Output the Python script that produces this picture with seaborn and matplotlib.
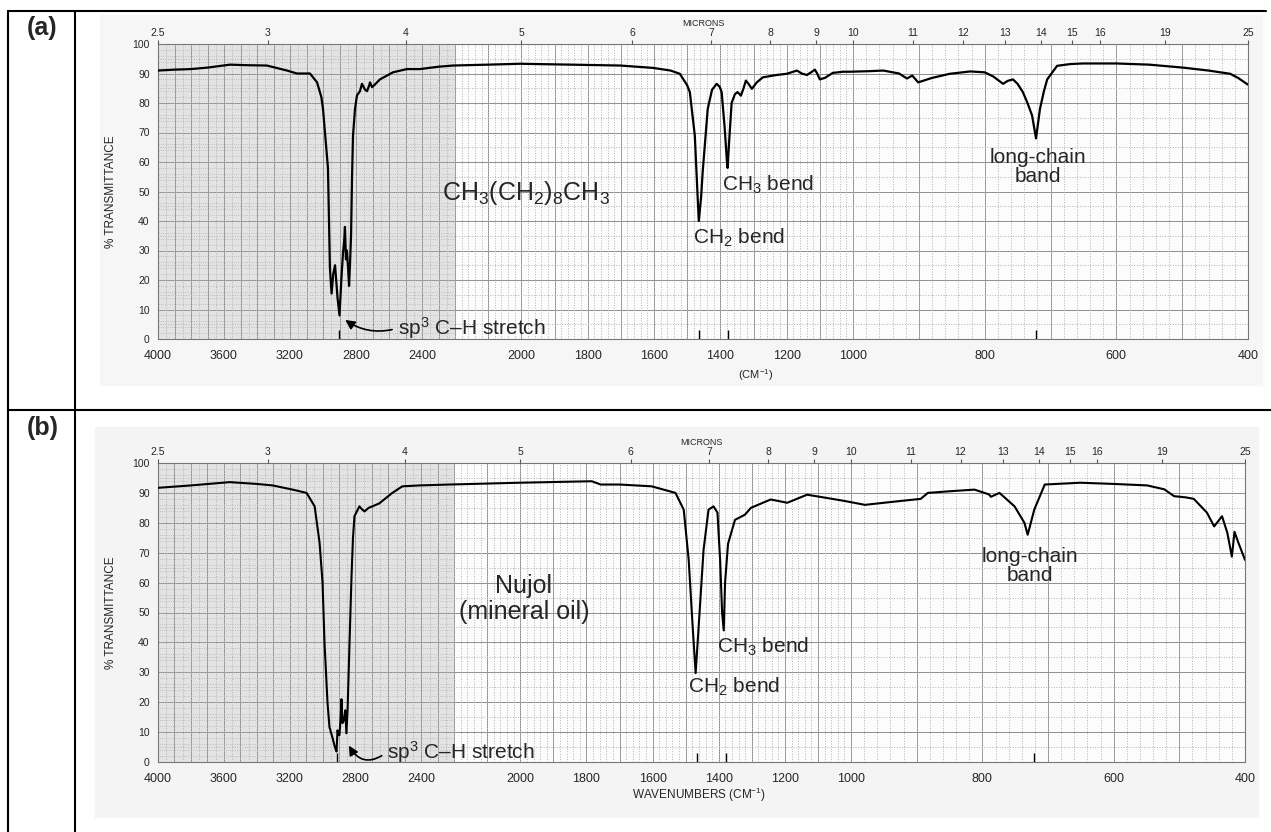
import numpy as np
import pandas as pd
import matplotlib.pyplot as plt
from matplotlib.lines import Line2D
from matplotlib.patches import Rectangle
import seaborn as sns

# (a) decane CH3(CH2)8CH3 - wavenumber (cm-1) / % transmittance
wn_a = [4000, 3900, 3800, 3700, 3564, 3450, 3340, 3218, 3158, 3079, 3036, 3010, 3000, 2985,
        2970, 2958, 2948, 2938, 2927, 2912, 2900, 2889, 2879, 2872, 2867, 2861, 2855, 2848,
        2842, 2836, 2830, 2824, 2818, 2806, 2794, 2776, 2764, 2745, 2733, 2720, 2715, 2703,
        2690, 2655, 2576, 2491, 2412, 2300, 2212, 2100, 2004, 1850, 1702, 1603, 1550, 1522,
        1500, 1492, 1477, 1470, 1465, 1458, 1453, 1438, 1425, 1411, 1402, 1396, 1387, 1380,
        1378, 1374, 1366, 1356, 1348, 1338, 1330, 1323, 1315, 1305, 1290, 1272, 1230, 1200,
        1169, 1155, 1139, 1125, 1115, 1108, 1100, 1085, 1061, 1030, 1009, 974, 954, 930,
        918, 910, 901, 880, 853, 822, 800, 787, 772, 765, 757, 750, 742, 735, 728, 722,
        716, 710, 705, 690, 670, 651, 600, 550, 499, 460, 427, 415, 400]
t_a = [91.0, 91.3, 91.5, 92.0, 93.0, 92.8, 92.7, 91.0, 90.0, 90.0, 87.0, 82.0, 78.0, 68.0,
       58.0, 24.0, 15.4, 22.0, 25.0, 14.0, 8.0, 20.0, 29.0, 33.0, 38.0, 27.0, 30.0, 24.0,
       18.0, 26.0, 35.0, 55.0, 69.0, 78.0, 82.6, 84.0, 86.5, 84.5, 84.0, 86.0, 87.0, 85.4,
       86.0, 88.0, 90.4, 91.5, 91.5, 92.3, 92.7, 93.0, 93.3, 93.0, 92.7, 91.9, 91.0, 89.9,
       86.0, 83.7, 69.0, 52.0, 40.0, 48.0, 57.0, 78.0, 84.5, 86.5, 85.5, 83.7, 71.7, 60.0,
       58.0, 66.0, 80.0, 83.0, 83.7, 82.5, 85.0, 87.6, 86.5, 84.8, 87.0, 88.7, 89.5, 89.9,
       91.0, 90.0, 89.5, 90.5, 91.3, 90.0, 88.0, 88.5, 90.2, 90.6, 90.6, 90.8, 91.0, 90.0,
       88.3, 89.3, 87.0, 88.5, 89.9, 90.7, 90.4, 89.0, 86.5, 87.5, 88.0, 86.5, 83.7, 80.0,
       75.8, 68.0, 78.0, 84.0, 88.0, 92.6, 93.2, 93.4, 93.4, 93.0, 92.0, 91.0, 89.9, 88.5, 86.2]

# (b) Nujol (mineral oil)
wn_b = [4000, 3800, 3564, 3400, 3303, 3182, 3097, 3048, 3018, 3000, 2988, 2970, 2958, 2939,
        2925, 2915, 2909, 2903, 2897, 2890, 2885, 2879, 2870, 2862, 2855, 2848, 2836, 2824,
        2815, 2806, 2776, 2760, 2745, 2720, 2697, 2655, 2576, 2515, 2412, 2230, 2004, 1784,
        1757, 1700, 1603, 1531, 1506, 1491, 1479, 1470, 1461, 1446, 1431, 1416, 1404, 1396,
        1390, 1385, 1381, 1372, 1351, 1321, 1303, 1243, 1193, 1133, 1073, 1030, 1005, 979,
        929, 894, 883, 853, 812, 790, 787, 774, 751, 736, 731, 721, 705, 651, 600, 549,
        523, 508, 490, 478, 458, 447, 435, 427, 420, 416, 410, 400]
t_b = [91.7, 92.5, 93.6, 93.0, 92.5, 91.1, 90.0, 85.5, 73.3, 60.0, 39.8, 20.0, 11.7, 8.0,
       5.0, 3.5, 10.6, 9.0, 9.0, 15.0, 21.0, 13.0, 14.0, 17.3, 9.6, 17.3, 40.0, 62.0,
       75.0, 82.2, 85.5, 84.5, 83.8, 85.0, 85.5, 86.5, 90.0, 92.2, 92.5, 92.8, 93.4, 93.9,
       92.8, 92.8, 92.2, 90.0, 84.4, 67.6, 45.3, 29.7, 45.0, 71.0, 84.4, 85.5, 83.4, 67.6,
       50.0, 44.0, 60.0, 73.0, 81.0, 82.7, 85.0, 87.8, 86.7, 89.4, 88.3, 87.5, 87.0, 86.0,
       87.2, 88.0, 90.0, 90.5, 91.1, 89.5, 88.7, 90.0, 85.5, 80.0, 76.0, 84.4, 92.8, 93.4, 93.0, 92.5,
       91.2, 88.9, 88.5, 88.0, 83.4, 78.8, 82.2, 76.7, 68.7, 77.0, 73.3, 67.6]

x_ticks = [4000, 3600, 3200, 2800, 2400, 2000, 1800, 1600, 1400, 1200, 1000, 800, 600, 400]
y_ticks = [0, 10, 20, 30, 40, 50, 60, 70, 80, 90, 100]
micron_ticks = [2.5, 3, 4, 5, 6, 7, 8, 9, 10, 11, 12, 13, 14, 15, 16, 19, 25]
micron_labels = ["2.5", "3", "4", "5", "6", "7", "8", "9", "10", "11", "12", "13", "14",
                 "15", "16", "19", "25"]
peaks_a = [2905, 1465, 1378, 722]
peaks_b = [2915, 1465, 1378, 722]

# chart paper scale: 4000-2200 compressed, 2200-1000 twice, 1000-400 four times
scale_wn = [400, 1000, 2200, 4000]
scale_pos = [-1090, -695, -297, 0]


def fwd(x):
    return np.interp(x, scale_wn, scale_pos)


def inv(p):
    return np.interp(p, scale_pos, scale_wn)


sns.set_theme(style="white")
plt.rcParams["font.family"] = ["Liberation Sans", "DejaVu Sans"]
plt.rcParams["mathtext.fontset"] = "custom"
plt.rcParams["mathtext.rm"] = "Liberation Sans"
plt.rcParams["mathtext.default"] = "regular"

fig = plt.figure(figsize=(12.71, 8.32), dpi=100)
W, H = 1271, 832

# scanned background of both pictures
fig.patches.append(Rectangle((100 / W, 1 - 385 / H), 1162 / W, 370 / H,
                             transform=fig.transFigure, color="#f6f6f6", zorder=-5))
fig.patches.append(Rectangle((95 / W, 1 - 817 / H), 1163 / W, 390 / H,
                             transform=fig.transFigure, color="#f4f4f4", zorder=-5))

ax_a = fig.add_axes([158 / W, 1 - 339 / H, 1090 / W, 295 / H])
ax_b = fig.add_axes([158 / W, 1 - 762 / H, 1087 / W, 299 / H])


def draw_panel(ax, wn, t, peaks, lw):
    ax.set_xscale("function", functions=(fwd, inv))
    ax.set_facecolor("#fcfcfc")
    ax.axvspan(2200, 4000, color="#e3e3e3", lw=0, zorder=0)
    fine_x = np.concatenate([np.arange(400, 1000, 20), np.arange(1000, 2200, 20),
                             np.arange(2200, 4000, 50)])
    ax.vlines(fine_x, 0, 100, colors="#b4b4b4", linestyles=":", lw=0.7, zorder=1)
    ax.hlines(np.arange(5, 100, 10), 400, 4000, colors="#b4b4b4", linestyles=":", lw=0.7, zorder=1)
    ax.hlines(np.arange(2, 100, 2), 2200, 4000, colors="#b4b4b4", linestyles=":", lw=0.6, zorder=1)
    df = pd.DataFrame({"wn": wn, "t": t})
    sns.lineplot(data=df, x="wn", y="t", ax=ax, color="black", lw=lw, sort=False,
                 estimator=None, zorder=5)
    ax.vlines(peaks, 0, 3, colors="black", lw=1.0, zorder=4)
    ax.set_xlim(4000, 400)
    ax.set_ylim(0, 100)
    ax.set_xticks(x_ticks)
    ax.set_xticks(np.arange(400, 4001, 100), minor=True)
    ax.set_xticklabels([str(v) for v in x_ticks])
    ax.set_yticks(y_ticks)
    ax.grid(True, which="both", color="#8e8e8e", lw=0.7, zorder=2)
    ax.set_axisbelow(True)
    ax.tick_params(axis="x", which="both", length=0, labelsize=9, pad=8)
    ax.tick_params(axis="y", length=0, labelsize=7.5, pad=6)
    for s in ax.spines.values():
        s.set_color("#777777")
        s.set_linewidth(0.8)
    ax.set_ylabel("% TRANSMITTANCE", fontsize=8.5)
    ax.yaxis.set_label_coords(-0.038, 0.5)

    top = ax.twiny()
    top.set_xscale("function", functions=(fwd, inv))
    top.set_xlim(4000, 400)
    top.set_xticks([10000 / m for m in micron_ticks])
    top.set_xticklabels(micron_labels)
    top.tick_params(axis="x", length=3, width=0.8, color="#555555", labelsize=7.5, pad=1)
    top.set_xlabel("MICRONS", fontsize=6.5, labelpad=2)
    for s in top.spines.values():
        s.set_visible(False)
    return top


draw_panel(ax_a, wn_a, t_a, peaks_a, 1.6)
draw_panel(ax_b, wn_b, t_b, peaks_b, 1.5)

ax_a.set_xlabel("(CM$^{-1}$)", fontsize=8)
ax_a.xaxis.set_label_coords(0.548, -0.095)
ax_b.set_xlabel("WAVENUMBERS (CM$^{-1}$)", fontsize=8.5)
ax_b.xaxis.set_label_coords(0.498, -0.078)

big = 18
mid = 15
ax_a.text(2279, 49.4, "CH$_3$(CH$_2$)$_8$CH$_3$", fontsize=big, ha="left", va="center")
ax_a.text(1396, 52.4, "CH$_3$ bend", fontsize=mid, ha="left", va="center")
ax_a.text(1483, 34.3, "CH$_2$ bend", fontsize=mid, ha="left", va="center")
ax_a.text(719, 58.2, "long-chain\nband", fontsize=mid, ha="center", va="center", linespacing=1.0)
ax_a.annotate("sp$^3$ C–H stretch", xy=(2879, 7), xytext=(2545, 3.7), fontsize=mid,
              ha="left", va="center",
              arrowprops=dict(arrowstyle="-|>", color="black", lw=1.2, relpos=(0, 0.5),
                              connectionstyle="arc3,rad=-0.25", mutation_scale=14))

ax_b.text(1989, 54.5, "Nujol\n(mineral oil)", fontsize=big, ha="center", va="center",
          linespacing=1.15)
ax_b.text(1404, 38.5, "CH$_3$ bend", fontsize=mid, ha="left", va="center")
ax_b.text(1492, 25, "CH$_2$ bend", fontsize=mid, ha="left", va="center")
ax_b.text(728, 65.5, "long-chain\nband", fontsize=mid, ha="center", va="center", linespacing=1.0)
ax_b.annotate("sp$^3$ C–H stretch", xy=(2848, 6.3), xytext=(2606, 3.4), fontsize=mid,
              ha="left", va="center",
              arrowprops=dict(arrowstyle="-|>", color="black", lw=1.2, relpos=(0, 0.5),
                              connectionstyle="arc3,rad=-0.6", mutation_scale=14))

# table frame around the two pictures
lw_tab = 1.5
fig.add_artist(Line2D([8 / W, 1266 / W], [1 - 11 / H, 1 - 11 / H], color="black", lw=lw_tab))
fig.add_artist(Line2D([8 / W, 1.0], [1 - 409.5 / H, 1 - 409.5 / H], color="black", lw=lw_tab))
fig.add_artist(Line2D([8 / W, 8 / W], [1 - 11 / H, 0], color="black", lw=lw_tab))
fig.add_artist(Line2D([75 / W, 75 / W], [1 - 11 / H, 0], color="black", lw=lw_tab))
fig.text(27 / W, 1 - 28 / H, "(a)", fontsize=18, fontweight="bold", va="center", ha="left")
fig.text(27 / W, 1 - 428 / H, "(b)", fontsize=18, fontweight="bold", va="center", ha="left")

fig.savefig("out.png", dpi=100)
